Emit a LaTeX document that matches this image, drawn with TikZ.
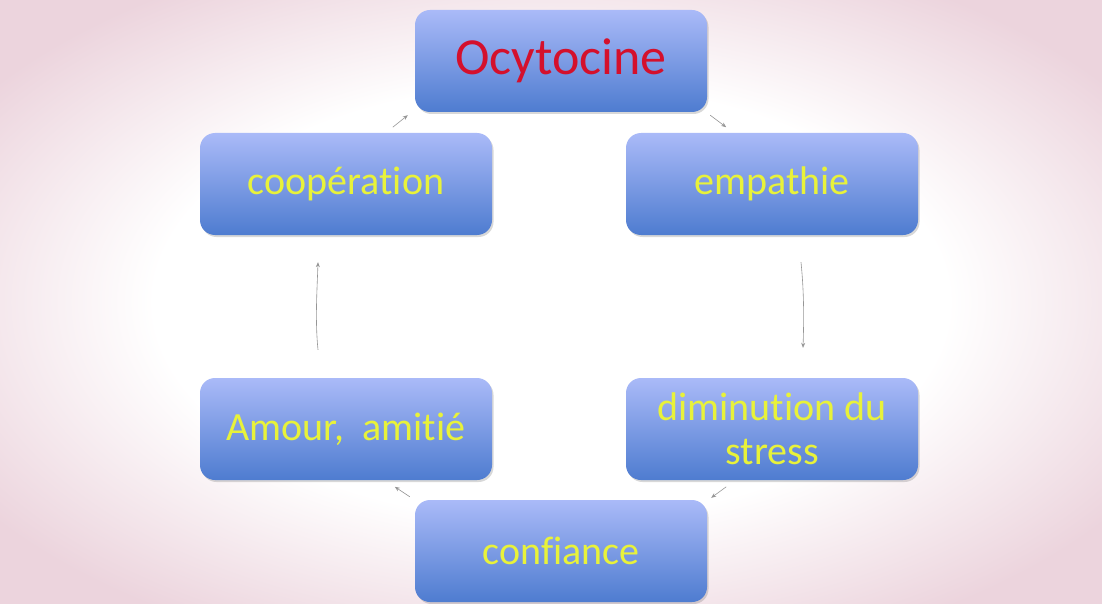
\documentclass[tikz,border=0pt]{standalone}
\usepackage{fontspec}
\setmainfont{Carlito}[Ligatures=NoCommon]
\usetikzlibrary{shadows,arrows.meta}
\definecolor{boxtop}{RGB}{170,186,248}
\definecolor{boxbot}{RGB}{78,124,208}
\definecolor{txtyellow}{RGB}{232,242,58}
\definecolor{txtred}{RGB}{212,16,44}
\definecolor{bgpink}{RGB}{236,212,221}
\definecolor{arrgray}{RGB}{150,150,150}
\pgfdeclareradialshading{bgshade}{\pgfpoint{0bp}{0bp}}{%
  color(0bp)=(white); color(18bp)=(white); color(31bp)=(bgpink); color(50bp)=(bgpink)}
\tikzset{
  box/.style={rounded corners=15pt, minimum width=292pt, minimum height=102pt,
    top color=boxtop, bottom color=boxbot, draw=none, align=center,
    drop shadow={shadow xshift=1.5pt, shadow yshift=-2pt, opacity=0.25, fill=black!60},
    inner sep=0pt, text=txtyellow, font=\fontsize{40}{44}\selectfont},
  conn/.style={draw=arrgray, line width=0.6pt, -{Stealth[length=5pt,width=4pt]}}
}
\begin{document}
\begin{tikzpicture}[x=1pt,y=-1pt]
\shade[shading=bgshade] (0,0) rectangle (1102,604);
\useasboundingbox (0,0) rectangle (1102,604);
\node[box, text=txtred, font=\fontsize{52}{58}\selectfont] (oc) at (561,61) {Ocytocine};
\node[box] (coop) at (346,184) {coopération};
\node[box] (emp) at (772,184) {empathie};
\node[box] (amour) at (346,429) {Amour,\ \ amitié};
\node[box] (dim) at (772,429) {diminution du\\stress};
\node[box] (conf) at (561,551) {confiance};
\draw[conn] ([shift={(-22,15)}]oc.south west) -- ([shift={(-7,3)}]oc.south west);
\draw[conn] ([shift={(3,3)}]oc.south east) -- ([shift={(19,15)}]oc.south east);
\draw[conn] ([shift={(29,27)}]emp.south) .. controls +(3,30) and +(1,-30) .. ([shift={(31,-30)}]dim.north);
\draw[conn] ([shift={(19,-13)}]conf.north east) -- ([shift={(4,-2)}]conf.north east);
\draw[conn] ([shift={(-5,-3)}]conf.north west) -- ([shift={(-20,-13)}]conf.north west);
\draw[conn] ([shift={(-28,-28)}]amour.north) .. controls +(-3,-30) and +(-1,30) .. ([shift={(-28,27)}]coop.south);
\end{tikzpicture}
\end{document}
